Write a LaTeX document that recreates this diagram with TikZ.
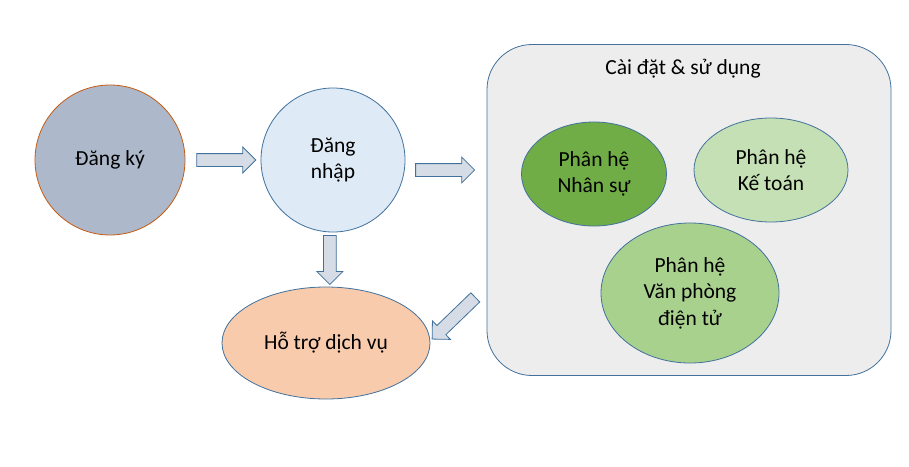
\documentclass[tikz,border=0pt]{standalone}
\usepackage{fontspec}
\setmainfont{Carlito}
\usetikzlibrary{shapes.geometric,shapes.arrows,positioning,calc}
\definecolor{edgeblue}{HTML}{41719C}
\definecolor{edgebrown}{HTML}{C55A11}
\definecolor{regfill}{HTML}{ADB9CA}
\definecolor{loginfill}{HTML}{DEEBF7}
\definecolor{supportfill}{HTML}{F8CBAD}
\definecolor{setupfill}{HTML}{EDEDED}
\definecolor{nsfill}{HTML}{70AD47}
\definecolor{ktfill}{HTML}{C5E0B4}
\definecolor{vpfill}{HTML}{A9D18E}
\definecolor{arrowfill}{HTML}{D6DCE5}
\tikzset{
  txt/.style={font=\fontsize{21.5}{26.5}\selectfont, align=center, text=black},
  disc/.style={circle, draw=edgeblue, line width=0.8pt, txt},
  oval/.style={ellipse, draw=edgeblue, line width=0.8pt, txt},
  blockarrow/.style={single arrow, draw=edgeblue, fill=arrowfill,
    line width=0.8pt, inner sep=6pt, single arrow head extend=6.5pt,
    minimum height=#1}
}

\begin{document}
\begin{tikzpicture}[x=1pt,y=-1pt]
\useasboundingbox (0,0) rectangle (909,466);

% outer box
\node[draw=edgeblue, fill=setupfill, line width=0.8pt, rounded corners=45pt,
  minimum width=404pt, minimum height=331pt] (setup) at (689,210) {};
\node[txt] (setuptitle) at (683,69) {Cài đặt \& sử dụng};

% left part
\node[disc, draw=edgebrown, fill=regfill, minimum size=150pt] (reg) at (110,160) {Đăng ký};
\node[disc, fill=loginfill, minimum size=144pt] (login) at (333,160) {Đăng\\nhập};
\node[oval, fill=supportfill, minimum width=208pt, minimum height=112pt] (support) at (326,343) {Hỗ trợ dịch vụ};

% modules
\node[oval, fill=nsfill, minimum width=145pt, minimum height=104pt] (ns) at (594,174) {Phân hệ\\Nhân sự};
\node[oval, fill=ktfill, minimum width=154pt, minimum height=104pt] (kt) at (771,170) {Phân hệ\\Kế toán};
\node[oval, fill=vpfill, minimum width=178pt, minimum height=140pt] (vp) at (690,293) {Phân hệ\\Văn phòng\\điện tử};

% block arrows between the nodes
\node[blockarrow=59pt] (a-reg-login) at ($(reg.east)!0.5!(login.west)$) {};
\node[blockarrow=59pt] (a-login-setup) at ([yshift=-10pt]$(login.east)!0.45!(login.east -| setup.west)$) {};
\node[blockarrow=49pt, rotate=-90] (a-login-support) at ($(login.south)!0.45!(support.north)$) {};
\node[blockarrow=60pt, rotate=224] (a-setup-support) at (456,316) {};

\end{tikzpicture}
\end{document}
